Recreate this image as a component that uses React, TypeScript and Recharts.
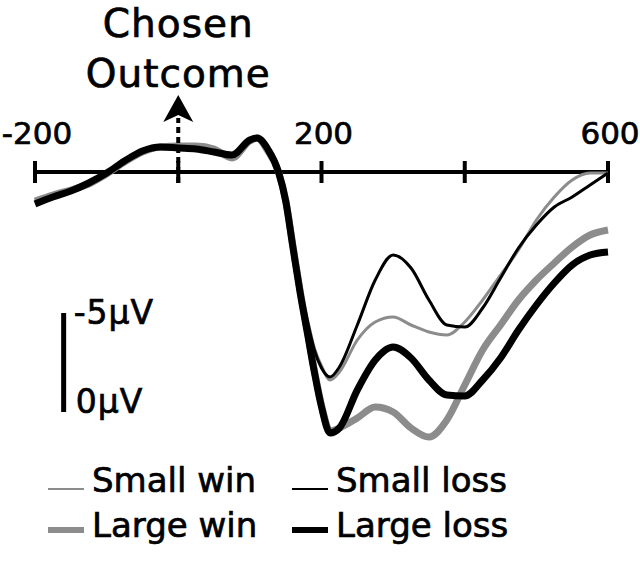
import React from 'react';
import { LineChart, Line, XAxis, YAxis, ReferenceLine, ReferenceDot } from 'recharts';

// time in ms
const times = [-200, -175, -150, -125, -100, -75, -50, -25, 0, 25, 50, 75, 100, 110, 125, 140, 150, 160, 170, 180, 190, 200, 212, 225, 250, 275, 300, 325, 350, 375, 400, 425, 450, 475, 500, 525, 550, 575, 600];

// amplitude in microvolts (negative plotted up)
const smallWin = [1.4, 1.15, 0.85, 0.55, 0, -0.6, -1.05, -1.25, -1.3, -1.3, -1.2, -0.9, -1.65, -1.7, -1.1, 0, 1.3, 3.4, 5.55, 7.3, 8.8, 9.7, 10.4, 10.0, 8.4, 7.5, 7.25, 7.65, 8.0, 8.15, 7.5, 6.4, 5.15, 3.9, 2.4, 1.25, 0.4, 0.05, 0.05];
const largeWin = [1.45, 1.15, 0.9, 0.6, 0.1, -0.5, -1.0, -1.25, -1.3, -1.3, -1.15, -0.7, -1.55, -1.7, -1.05, 0, 1.4, 3.65, 5.9, 7.9, 9.9, 11.65, 12.95, 12.8, 12.3, 11.75, 12.0, 12.8, 13.25, 12.4, 10.65, 8.9, 7.65, 6.4, 5.4, 4.55, 3.75, 3.15, 2.9];
const smallLoss = [1.5, 1.2, 0.9, 0.5, 0, -0.6, -1.1, -1.25, -1.25, -1.2, -1.05, -0.85, -1.6, -1.7, -1.1, 0, 1.35, 3.5, 5.65, 7.4, 8.9, 9.8, 10.25, 9.75, 7.65, 5.4, 4.15, 4.8, 6.4, 7.65, 7.75, 6.8, 5.3, 3.8, 2.65, 1.75, 1.25, 0.65, 0.05];
const largeLoss = [1.6, 1.25, 0.95, 0.55, 0.05, -0.55, -1.05, -1.25, -1.2, -1.15, -1.0, -0.85, -1.6, -1.7, -1.15, 0, 1.45, 3.75, 6.0, 8.0, 10.0, 11.75, 13.05, 12.8, 10.9, 9.4, 8.75, 9.3, 10.4, 11.15, 11.2, 10.4, 9.3, 7.9, 6.65, 5.55, 4.65, 4.15, 4.0];

const tickValues = [-200, 0, 200, 400, 600];
const tickLabels = ['-200', '', '200', '', '600'];

const seriesNames = ['Small win', 'Small loss', 'Large win', 'Large loss'];
const seriesKeys = ['smallWin', 'smallLoss', 'largeWin', 'largeLoss'];
const seriesColors = ['#8c8c8c', '#000000', '#8c8c8c', '#000000'];
const seriesWidths = [3, 3, 7, 7];
const drawOrder = [2, 0, 1, 3];

const data = times.map((t, i) => ({
  t,
  smallWin: smallWin[i],
  largeWin: largeWin[i],
  smallLoss: smallLoss[i],
  largeLoss: largeLoss[i],
}));

const FONT = '"DejaVu Sans", Verdana, sans-serif';

const textShape = (lines: string[], dx: number, dy: number, size: number, anchor: string, lineGap = 0, spacing = 0) => (props: any) => (
  <g>
    {lines.map((ln, i) => (
      <text
        key={i}
        x={props.cx + dx}
        y={props.cy + dy + i * lineGap}
        fontSize={size}
        fontFamily={FONT}
        textAnchor={anchor}
        fill="#000"
        stroke="#000"
        strokeWidth={0.7}
        letterSpacing={spacing}
      >
        {ln}
      </text>
    ))}
  </g>
);

const arrowShape = (props: any) => {
  const { cx, cy } = props;
  return (
    <g>
      <polygon points={`${cx},${cy} ${cx + 15},${cy + 27} ${cx},${cy + 20} ${cx - 15},${cy + 27}`} fill="#000" />
      {textShape(['Chosen', 'Outcome'], 0, -58.5, 39, 'middle', 50, 1)(props)}
    </g>
  );
};

export default function App() {
  return (
    <div style={{ position: 'absolute', left: 0, top: 0, width: 640, height: 562, background: '#fff' }}>
      <LineChart width={640} height={562} data={data} margin={{ top: 72, right: 32, bottom: 90, left: 35 }}>
        <XAxis dataKey="t" type="number" domain={[-200, 600]} hide />
        <YAxis type="number" domain={[-5, 15]} reversed hide allowDataOverflow />
        <ReferenceLine y={0} stroke="#000" strokeWidth={4} />
        {tickValues.map((tv, i) => (
          <ReferenceLine key={'tk' + i} segment={[{ x: tv, y: -0.55 }, { x: tv, y: 0.55 }]} stroke="#000" strokeWidth={4} />
        ))}
        {tickValues.map((tv, i) =>
          tickLabels[i] ? (
            <ReferenceDot key={'tl' + i} x={tv} y={0} r={0} shape={textShape([tickLabels[i]], 2, -28, 31, 'middle')} />
          ) : null
        )}
        {drawOrder.map((si) => (
          <Line
            key={seriesKeys[si]}
            dataKey={seriesKeys[si]}
            name={seriesNames[si]}
            type="monotone"
            stroke={seriesColors[si]}
            strokeWidth={seriesWidths[si]}
            dot={false}
            isAnimationActive={false}
          />
        ))}
        <ReferenceLine segment={[{ x: 0, y: 0.55 }, { x: 0, y: -2.7 }]} stroke="#000" strokeWidth={4} strokeDasharray="6 4" />
        <ReferenceDot x={0} y={-3.85} r={0} shape={arrowShape} />
        <ReferenceLine segment={[{ x: -160, y: 7.05 }, { x: -160, y: 12.0 }]} stroke="#000" strokeWidth={5} />
        <ReferenceDot x={-160} y={7.05} r={0} shape={textShape(['-5μV'], 10, 11, 33, 'start', 0, 1)} />
        <ReferenceDot x={-160} y={12.0} r={0} shape={textShape(['0μV'], 12, 1, 33, 'start', 0, 1)} />
      </LineChart>
      <svg width={640} height={100} style={{ position: 'absolute', left: 0, top: 460 }}>
        {seriesNames.map((nm, i) => {
          const col = i % 2;
          const row = Math.floor(i / 2);
          const lx = col === 0 ? 48 : 292;
          const ly = row === 0 ? 29 : 70;
          const ty = row === 0 ? 32 : 77;
          return (
            <g key={nm}>
              <line x1={lx} x2={lx + 36} y1={ly} y2={ly} stroke={seriesColors[i]} strokeWidth={seriesWidths[i] - 1} />
              <text x={lx + 44} y={ty} fontSize={34} fontFamily={FONT} fill="#000" stroke="#000" strokeWidth={0.7}>
                {nm}
              </text>
            </g>
          );
        })}
      </svg>
    </div>
  );
}
